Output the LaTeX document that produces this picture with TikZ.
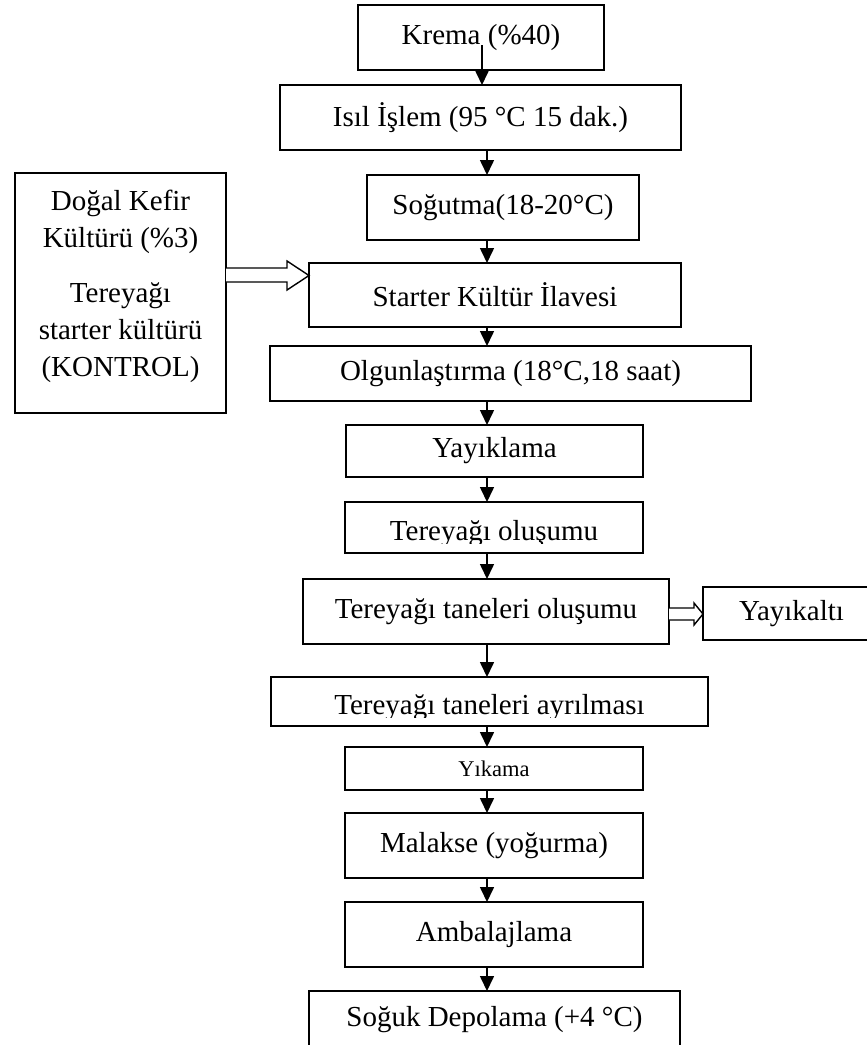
\documentclass[tikz,border=0pt]{standalone}
\usepackage{fontspec}
\setmainfont{Liberation Serif}
\usetikzlibrary{arrows.meta}
\begin{document}
\begin{tikzpicture}[x=1pt,y=-1pt,
  box/.style={draw,line width=1.6pt,inner sep=0pt,outer sep=0pt,align=center,
    font=\fontsize{29}{37}\selectfont},
  txt/.style={inner sep=0pt,outer sep=0pt,align=center,font=\fontsize{29}{37}\selectfont},
  arr/.style={line width=1.6pt,-{Triangle[width=14pt,length=15pt]}},
  hollow/.style={draw,line width=1.4pt,fill=white,line join=miter}]
\useasboundingbox (0,0) rectangle (867,1045);
\fill[white] (0,0) rectangle (867,1045);

% main column
\node[box,minimum width=246pt,minimum height=65pt] (krema) at (481,37.5) {Krema (\%40)};
\node[box,minimum width=401pt,minimum height=65pt] (isil) at (480.5,117.5) {Isıl İşlem (95 °C 15 dak.)};
\node[box,minimum width=272pt,minimum height=65pt] (sogut) at (503,207.5) {Soğutma(18-20°C)};
\node[box,minimum width=372pt,minimum height=64pt] (starter) at (495,295) {Starter Kültür İlavesi};
\node[box,minimum width=481pt,minimum height=55pt] (olgun) at (510.5,373.5) {Olgunlaştırma (18°C,18 saat)};
\node[box,minimum width=297pt,minimum height=52pt] (yayik) at (494.5,451) {Yayıklama};
\node[box,minimum width=298pt,minimum height=51pt] (tolus) at (494,527.5) {};
\begin{scope}
  \clip (345,502) rectangle (643,543.5);
  \node[txt,anchor=base] (tolustxt) at (494,540) {Tereyağı oluşumu};
\end{scope}
\node[box,minimum width=366pt,minimum height=65pt] (tanele) at (486,611.5) {Tereyağı taneleri oluşumu};
\node[box,minimum width=177pt,minimum height=53pt] (yayikalti) at (791.5,613.5) {Yayıkaltı};
\node[box,minimum width=437pt,minimum height=49pt] (avril) at (489.5,701.5) {};
\begin{scope}
  \clip (271,677) rectangle (708,717);
  \node[txt,anchor=base] (avriltxt) at (489.5,714) {Tereyağı taneleri ayrılması};
\end{scope}
\node[box,minimum width=298pt,minimum height=43pt,font=\fontsize{22.5}{27}\selectfont] (yikama) at (494,768.5) {Yıkama};
\node[box,minimum width=298pt,minimum height=65pt] (malakse) at (494,845.5) {Malakse (yoğurma)};
\node[box,minimum width=298pt,minimum height=65pt] (ambal) at (494,934.5) {Ambalajlama};
\node[box,minimum width=371pt,minimum height=58pt] (soguk) at (494.5,1020) {Soğuk Depolama (+4 °C)};

% side box
\node[box,minimum width=211pt,minimum height=240pt] (kultur) at (120.5,293) {};
\node[txt] (kulturtxt) at (120.5,286.5) {Doğal Kefir\\Kültürü (\%3)\\[18pt]Tereyağı\\starter kültürü\\(KONTROL)};

% arrows
\coordinate (kstart) at (482,45);
\coordinate (ax) at (487,0);
\draw[arr] (kstart) -- (kstart |- isil.north);
\draw[arr] (isil.south -| ax) -- (sogut.north -| ax);
\draw[arr] (sogut.south -| ax) -- (starter.north -| ax);
\draw[arr] (starter.south -| ax) -- (olgun.north -| ax);
\draw[arr] (olgun.south -| ax) -- (yayik.north -| ax);
\draw[arr] (yayik.south -| ax) -- (tolus.north -| ax);
\draw[arr] (tolus.south -| ax) -- (tanele.north -| ax);
\draw[arr] (tanele.south -| ax) -- (avril.north -| ax);
\draw[arr] (avril.south -| ax) -- (yikama.north -| ax);
\draw[arr] (yikama.south -| ax) -- (malakse.north -| ax);
\draw[arr] (malakse.south -| ax) -- (ambal.north -| ax);
\draw[arr] (ambal.south -| ax) -- (soguk.north -| ax);

% hollow arrows
\draw[hollow] (kultur.east |- 0,268) -- (287,268) -- (287,261) -- (starter.west |- 0,275.5)
  -- (287,290) -- (287,282) -- (kultur.east |- 0,282);
\draw[hollow] (tanele.east |- 0,608) -- (694,608) -- (694,603) -- (yayikalti.west |- 0,614)
  -- (694,625) -- (694,620) -- (tanele.east |- 0,620);
\end{tikzpicture}
\end{document}
